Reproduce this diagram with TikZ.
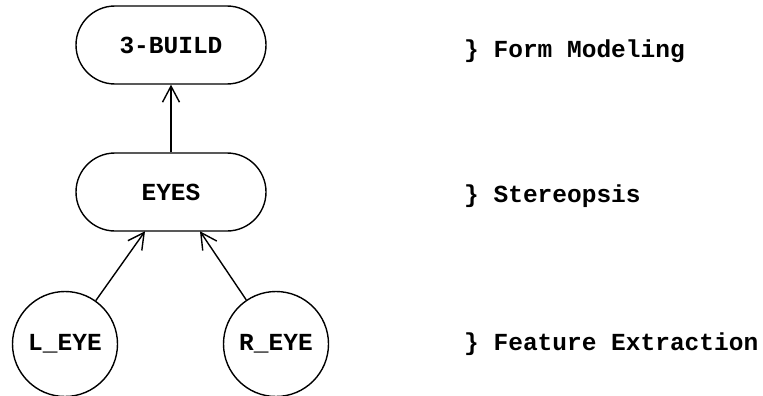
\documentclass[tikz,border=0pt]{standalone}
\usepackage{fontspec}
\setmonofont{Liberation Mono}
\usetikzlibrary{arrows.meta}
\begin{document}
\begin{tikzpicture}[x=1pt,y=-1pt,
  txt/.style={font=\ttfamily\bfseries\fontsize{24.5}{26}\selectfont},
  pill/.style={draw,line width=1.4pt,rounded corners=39pt,minimum width=190pt,minimum height=78pt,inner sep=0pt,txt},
  eye/.style={draw,circle,line width=1.4pt,minimum size=105pt,inner sep=0pt,txt},
  conn/.style={line width=1.4pt,-{Straight Barb[length=16pt,width=17pt,line width=1.4pt]}},
  lab/.style={anchor=west,inner sep=0pt,txt}]
\useasboundingbox (0,0) rectangle (763,396);
\node[pill] (b) at (171,45) {3-BUILD};
\node[pill] (e) at (171,192) {EYES};
\node[eye] (l) at (65,344) {L\_EYE};
\node[eye] (r) at (276,344) {R\_EYE};
\coordinate (el) at (145,231.3);
\coordinate (er) at (200,231.3);
\draw[conn] (e) -- (b);
\draw[conn] (l) -- (el);
\draw[conn] (r) -- (er);
\node[lab] (t1) at (464,51) {\} Form Modeling};
\node[lab] (t2) at (464,196) {\} Stereopsis};
\node[lab] (t3) at (464,344) {\} Feature Extraction};
\end{tikzpicture}
\end{document}
